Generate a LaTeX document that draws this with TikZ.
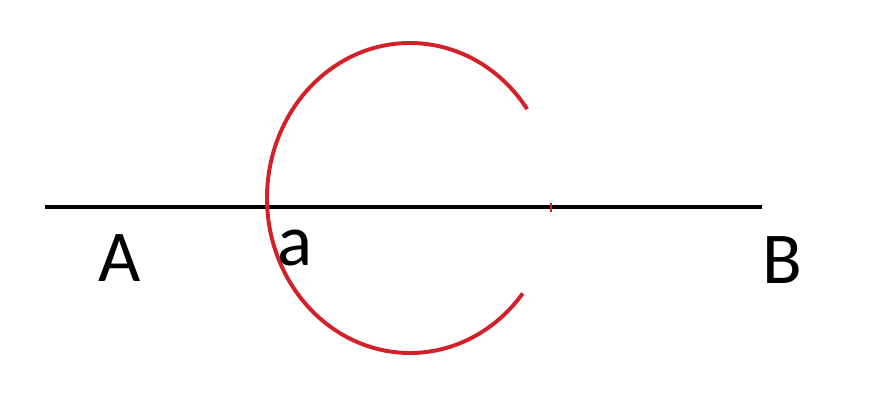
\documentclass[tikz,border=0pt]{standalone}
\usepackage{fontspec}
\setmainfont{Carlito}
\usepackage{xcolor}
\definecolor{arcred}{RGB}{212,32,40}
\begin{document}
\begin{tikzpicture}[every node/.style={font=\fontsize{52}{56}\selectfont}]
\useasboundingbox(0,0)rectangle(22.2,-10.35);
\coordinate(A0)at(1.125,-5.175);
\coordinate(B0)at(19.05,-5.175);
\coordinate(c)at(10.25,-4.95);
\draw[line width=2.2pt](A0)--(B0);
\draw[arcred,line width=2.8pt]([shift={(35:3.575 and 3.875)}]c)
arc[start angle=35,end angle=322,x radius=3.575cm,y radius=3.875cm];
\draw[arcred,line width=2pt](13.775,-5.08)--(13.775,-5.3);
\path(3.0,-6.45)node(labA){A}
(7.375,-6.2)node(laba){a}
(19.55,-6.5)node(labB){B};
\end{tikzpicture}
\end{document}
